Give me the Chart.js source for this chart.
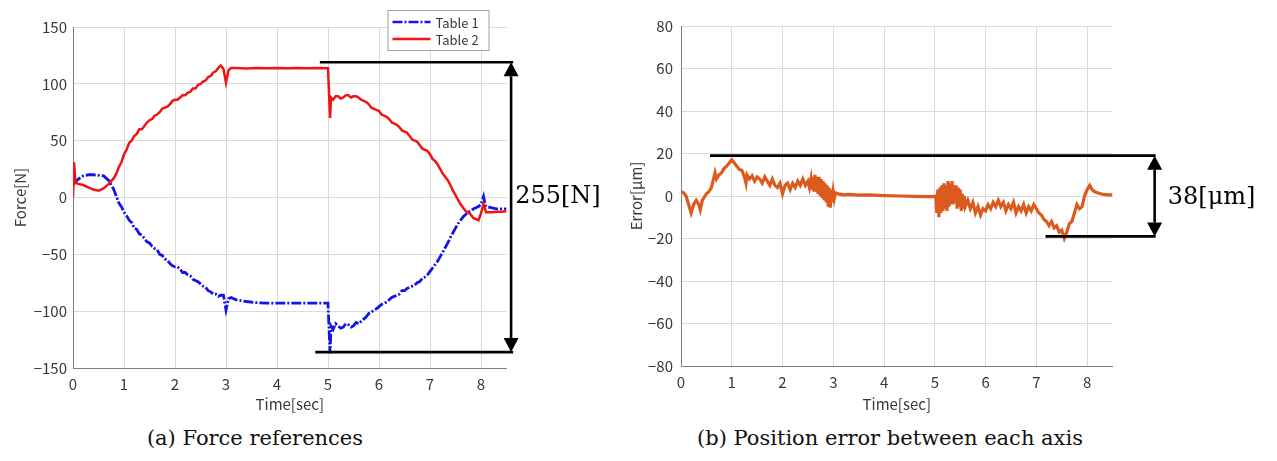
<!DOCTYPE html>
<html>
<head>
<meta charset="utf-8">
<title>Force references / Position error</title>
<script src="https://cdn.jsdelivr.net/npm/chart.js@4.4.1/dist/chart.umd.min.js"></script>
<style>
  body { margin: 0; background: #fff; width: 1277px; height: 461px; overflow: hidden; position: relative; }
  canvas { position: absolute; top: 0; }
  #forceChart { left: 0; }
  #errorChart { left: 620px; }
  .caption {
    position: absolute; top: 423px; height: 30px; line-height: 30px;
    font-family: "DejaVu Serif", "Liberation Serif", serif; font-size: 21px;
    color: #111; text-align: center; white-space: nowrap;
  }
</style>
</head>
<body>
<canvas id="forceChart" width="620" height="420"></canvas>
<canvas id="errorChart" width="657" height="420"></canvas>
<div class="caption" style="left:55px; width:400px;">(a) Force references</div>
<div class="caption" style="left:690px; width:400px;">(b) Position error between each axis</div>

<script>
// ---------------------------------------------
// Force references of the two tables [N]
// ---------------------------------------------
const timeF = [
  0, 0.02, 0.05, 0.1, 0.2, 0.3, 0.4, 0.5, 0.6, 0.7,
  0.8, 0.85, 0.9, 0.95, 1.0, 1.05, 1.1, 1.15, 1.2, 1.25,
  1.3, 1.35, 1.4, 1.45, 1.5, 1.55, 1.6, 1.65, 1.7, 1.75,
  1.8, 1.85, 1.9, 1.95, 2.0, 2.05, 2.1, 2.15, 2.2, 2.25,
  2.3, 2.35, 2.4, 2.45, 2.5, 2.55, 2.6, 2.65, 2.7, 2.75,
  2.8, 2.85, 2.9, 2.95, 3.0, 3.05, 3.1, 3.2, 3.4, 3.6,
  3.8, 4.0, 4.2, 4.4, 4.6, 4.8, 5.0, 5.04, 5.06, 5.1,
  5.15, 5.2, 5.25, 5.3, 5.35, 5.4, 5.45, 5.5, 5.55, 5.6,
  5.65, 5.7, 5.75, 5.8, 5.85, 5.9, 5.95, 6.0, 6.05, 6.1,
  6.15, 6.2, 6.25, 6.3, 6.35, 6.4, 6.45, 6.5, 6.55, 6.6,
  6.65, 6.7, 6.75, 6.8, 6.85, 6.9, 6.95, 7.0, 7.05, 7.1,
  7.15, 7.2, 7.25, 7.3, 7.35, 7.4, 7.45, 7.5, 7.55, 7.6,
  7.65, 7.7, 7.75, 7.8, 7.85, 7.9, 7.95, 8.0, 8.05, 8.08,
  8.1, 8.2, 8.3, 8.4, 8.5
];

const table1 = [
  12, 12, 14, 16, 19, 20, 20, 19.5, 19, 15,
  7, 1, -5, -8, -13, -16, -20, -22, -27, -28,
  -32, -33, -36, -39, -40, -43, -45, -46, -50, -51,
  -54, -55, -58, -60, -61, -61, -63, -66, -66, -68,
  -69, -72, -73, -74, -76, -78, -79, -82, -83, -85,
  -85, -87, -86, -86, -99, -89, -88, -90, -91.5, -92.5,
  -93, -93, -93, -93, -93, -93, -93, -137, -113, -116,
  -111, -113, -115, -114, -111, -112, -114, -113, -110, -111,
  -109, -107, -105, -102, -101, -99, -98, -96, -94, -93,
  -92, -90, -88, -87, -86, -85, -82, -82, -80, -79,
  -78, -77, -75, -74, -71, -70, -68, -65, -62, -59,
  -56, -52, -48, -44, -40, -35, -31, -27, -23, -20,
  -17, -15, -13, -12, -10, -9, -8, -6, 1, -6,
  -8, -9, -10, -10, -10
];

const table2 = [
  0, 31, 13, 12, 11, 9, 7, 6, 8, 12,
  17, 21, 27, 31, 38, 42, 48, 50, 54, 56,
  60, 60, 63, 66, 68, 69, 72, 73, 75, 78,
  79, 80, 82, 85, 86, 86, 88, 90, 90, 92,
  93, 96, 96, 99, 100, 102, 103, 106, 107, 110,
  111, 114, 116, 113, 101, 112, 114, 114, 113.5, 114,
  113.8, 114, 113.8, 114, 113.7, 114, 113.8, 70, 88, 86,
  89, 89, 87, 88, 90, 90, 88, 89, 89, 88,
  86, 85, 84, 82, 79, 78, 77, 76, 73, 72,
  71, 69, 66, 65, 64, 62, 59, 58, 57, 54,
  51, 50, 49, 46, 43, 42, 41, 38, 34, 32,
  29, 25, 21, 18, 15, 11, 6, 2, -2, -6,
  -9, -12, -13, -15, -18, -19, -20, -14, -6, -10,
  -13, -13, -12.5, -12.5, -12
];

// ---------------------------------------------
// Position error between each axis [um]
// ---------------------------------------------
const timeE = [
  0, 0.05, 0.1, 0.15, 0.2, 0.25, 0.3, 0.35, 0.38, 0.42,
  0.5, 0.55, 0.6, 0.65, 0.67, 0.7, 0.75, 0.8, 0.85, 0.9,
  0.95, 1.0, 1.05, 1.1, 1.15, 1.2, 1.25, 1.28, 1.3, 1.35,
  1.4, 1.45, 1.5, 1.55, 1.6, 1.65, 1.7, 1.75, 1.8, 1.85,
  1.9, 1.95, 2.0, 2.05, 2.1, 2.15, 2.2, 2.25, 2.3, 2.35,
  2.4, 2.45, 2.5, 2.53, 2.56, 2.58, 2.6, 2.62, 2.64, 2.66,
  2.68, 2.7, 2.72, 2.74, 2.76, 2.78, 2.8, 2.82, 2.84, 2.86,
  2.88, 2.9, 2.92, 2.94, 2.96, 2.98, 3.0, 3.02, 3.04, 3.1,
  3.2, 3.3, 3.5, 3.7, 4.0, 4.3, 4.6, 4.9, 5.0, 5.02,
  5.04, 5.06, 5.08, 5.1, 5.12, 5.14, 5.16, 5.18, 5.2, 5.22,
  5.24, 5.26, 5.28, 5.3, 5.32, 5.34, 5.36, 5.38, 5.4, 5.42,
  5.44, 5.46, 5.48, 5.5, 5.52, 5.54, 5.56, 5.58, 5.6, 5.65,
  5.7, 5.75, 5.8, 5.85, 5.9, 5.95, 6.0, 6.05, 6.1, 6.15,
  6.2, 6.25, 6.3, 6.35, 6.4, 6.45, 6.5, 6.55, 6.6, 6.65,
  6.7, 6.75, 6.8, 6.85, 6.9, 6.95, 7.0, 7.05, 7.1, 7.15,
  7.2, 7.25, 7.3, 7.35, 7.4, 7.45, 7.5, 7.55, 7.6, 7.65,
  7.7, 7.75, 7.8, 7.85, 7.9, 7.95, 8.0, 8.05, 8.1, 8.15,
  8.2, 8.3, 8.4, 8.5
];

const posError = [
  2, 1.5, 0, -4, -8, -4, -2, -4, -6.5, -2,
  1, 2, 4, 9, 11, 8, 10, 11, 13, 14,
  15.5, 17, 15.5, 14, 12.5, 12, 9, 6, 10, 8,
  9.5, 7, 9, 8, 6, 9, 7, 5, 8, 5,
  4, 6, 1, 5, 6, 3, 6, 4, 7, 5,
  8, 5, 7, 4, 8, 3, 9, 2, 10, 2,
  9, 1, 9, 0, 8, -1, 7, -2, 6, -3,
  5, -5, 4, -5.5, 3, -3, 2, -1, 1.5, 1,
  0.5, 0.8, 0.4, 0.5, 0.2, 0, -0.2, -0.3, -0.2, 0,
  -8, 3, -10, 4, -8, 5, -7, 6, -6, 5,
  -7, 7, -5, 6, -4, 7, -4, 5, -3, 5,
  -6, 4, -5, 3, -7, 1, -6, 0, -5, -2,
  -6, -3, -8, -5, -9, -6, -7, -4, -6, -3,
  -5, -2, -5, -3, -7, -4, -6, -3, -8, -5,
  -7, -4, -8, -5, -7, -4, -6, -8, -9, -11,
  -12, -14, -12, -15, -14, -17, -16, -20, -17, -13,
  -12, -8, -4, -6, -5, 0, 3, 5, 3, 2,
  1.5, 0.8, 0.5, 0.5
];

// Axis ticks
const timeTicks  = [0, 1, 2, 3, 4, 5, 6, 7, 8];
const forceTicks = [-150, -100, -50, 0, 50, 100, 150];
const errorTicks = [-80, -60, -40, -20, 0, 20, 40, 60, 80];

// Span annotations (arrow between two limit lines)
const forceSpan = { top: 119, bottom: -136, label: '255[N]' };
const errorSpan = { top: 19, bottom: -19, label: '38[μm]' };

const FONT = "'Noto Sans CJK JP', 'Noto Sans', sans-serif";
const GRID = '#dadada';
const AXIS = '#808080';
const TEXT = '#383838';

function pairs(xs, ys) {
  return xs.map((x, i) => ({ x, y: ys[i] }));
}

// -----------------------------------------
// Plugin: vertical double arrow with limit lines + label
// -----------------------------------------
const spanArrow = {
  id: 'spanArrow',
  afterDraw(chart, args, o) {
    if (!o || o.top === undefined) return;
    const { ctx, scales: { x, y } } = chart;
    const yTop = y.getPixelForValue(o.top);
    const yBot = y.getPixelForValue(o.bottom);
    const xa   = x.getPixelForValue(o.at);
    const xEnd = x.getPixelForValue(o.end);
    const head = 14, half = 7.5;

    ctx.save();
    ctx.strokeStyle = '#000';
    ctx.fillStyle = '#000';
    ctx.lineWidth = 2.6;
    ctx.beginPath();
    ctx.moveTo(x.getPixelForValue(o.topFrom), yTop);
    ctx.lineTo(xEnd, yTop);
    ctx.moveTo(x.getPixelForValue(o.bottomFrom), yBot);
    ctx.lineTo(xEnd, yBot);
    ctx.moveTo(xa, yTop + head);
    ctx.lineTo(xa, yBot - head);
    ctx.stroke();

    ctx.beginPath();
    ctx.moveTo(xa, yTop);
    ctx.lineTo(xa - half, yTop + head);
    ctx.lineTo(xa + half, yTop + head);
    ctx.closePath();
    ctx.moveTo(xa, yBot);
    ctx.lineTo(xa - half, yBot - head);
    ctx.lineTo(xa + half, yBot - head);
    ctx.closePath();
    ctx.fill();

    ctx.font = '24px "DejaVu Serif", serif';
    ctx.textAlign = 'left';
    ctx.textBaseline = 'middle';
    ctx.fillText(o.label, x.getPixelForValue(o.labelAt), y.getPixelForValue(o.labelY));
    ctx.restore();
  }
};
Chart.register(spanArrow);

// -----------------------------------------
// Plugin: boxed legend in the upper right corner
// -----------------------------------------
const tableLegend = {
  id: 'tableLegend',
  afterDraw(chart) {
    const { ctx, chartArea } = chart;
    const left = chartArea.right - 119, top = chartArea.top - 17;
    const w = 101, h = 40;
    ctx.save();
    ctx.fillStyle = '#fff';
    ctx.fillRect(left, top, w, h);
    ctx.strokeStyle = '#a0a0a0';
    ctx.lineWidth = 1;
    ctx.strokeRect(left + 0.5, top + 0.5, w, h);

    chart.data.datasets.slice().reverse().forEach((ds, i) => {
      const yy = top + 12 + i * 17;
      ctx.strokeStyle = ds.borderColor;
      ctx.lineWidth = 2.5;
      ctx.setLineDash(ds.borderDash || []);
      ctx.beginPath();
      ctx.moveTo(left + 5, yy);
      ctx.lineTo(left + 43, yy);
      ctx.stroke();
      ctx.setLineDash([]);
      ctx.fillStyle = TEXT;
      ctx.font = '13px ' + FONT;
      ctx.textBaseline = 'middle';
      ctx.fillText(ds.label, left + 48, yy + 1);
    });
    ctx.restore();
  }
};

function setTicks(list) {
  return scale => { scale.ticks = list.map(v => ({ value: v })); };
}

function makeOptions(cfg) {
  return {
    responsive: false,
    animation: false,
    events: [],
    layout: { padding: cfg.padding },
    plugins: {
      legend: { display: false },
      tooltip: { enabled: false },
      spanArrow: cfg.span
    },
    scales: {
      x: {
        type: 'linear',
        min: 0, max: 8.5,
        afterBuildTicks: setTicks(timeTicks),
        afterFit: s => { s.height = cfg.xHeight; },
        grid: { color: GRID, drawTicks: false },
        border: { color: AXIS, width: 1 },
        ticks: { color: TEXT, font: { family: FONT, size: 15 }, padding: 7, maxRotation: 0 },
        title: { display: true, text: 'Time[sec]', color: TEXT, font: { family: FONT, size: 15 }, padding: { top: 0, bottom: 7 } }
      },
      y: {
        min: cfg.yTicks[0], max: cfg.yTicks[cfg.yTicks.length - 1],
        afterBuildTicks: setTicks(cfg.yTicks),
        afterFit: s => { s.width = cfg.yWidth; },
        grid: { color: GRID, drawTicks: false },
        border: { color: AXIS, width: 1 },
        ticks: { color: TEXT, font: { family: FONT, size: 15 }, padding: cfg.yPad, callback: v => String(v).replace('-', '\u2212') },
        title: { display: true, text: cfg.yTitle, color: TEXT, font: { family: FONT, size: 15 }, padding: { top: cfg.yTitlePad, bottom: 0 } }
      }
    }
  };
}

// Force chart
new Chart(document.getElementById('forceChart'), {
  type: 'line',
  data: {
    datasets: [
      {
        label: 'Table 2',
        data: pairs(timeF, table2),
        borderColor: '#f01414',
        borderWidth: 2.5,
        pointRadius: 0,
        order: 0
      },
      {
        label: 'Table 1',
        data: pairs(timeF, table1),
        borderColor: '#1414e6',
        borderWidth: 2.8,
        borderDash: [10, 2, 2, 2],
        pointRadius: 0,
        order: 1
      }
    ]
  },
  options: makeOptions({
    padding: { left: 0, top: 27, right: 113.5, bottom: 0 },
    xHeight: 52,
    yWidth: 73,
    yPad: 6,
    yTicks: forceTicks,
    yTitle: 'Force[N]',
    yTitlePad: 11,
    span: Object.assign({ topFrom: 4.84, bottomFrom: 4.75, end: 8.63, at: 8.59, labelAt: 8.67, labelY: 1 }, forceSpan)
  }),
  plugins: [tableLegend]
});

// Position error chart
new Chart(document.getElementById('errorChart'), {
  type: 'line',
  data: {
    datasets: [{
      label: 'Error',
      data: pairs(timeE, posError),
      borderColor: '#dc5a1e',
      borderWidth: 3.2,
      pointRadius: 0
    }]
  },
  options: makeOptions({
    padding: { left: 0, top: 26, right: 164.5, bottom: 0 },
    xHeight: 54,
    yWidth: 61,
    yPad: 8,
    yTicks: errorTicks,
    yTitle: 'Error[μm]',
    yTitlePad: 7,
    span: Object.assign({ topFrom: 0.57, bottomFrom: 7.18, end: 9.35, at: 9.33, labelAt: 9.59, labelY: -1 }, errorSpan)
  })
});
</script>
</body>
</html>
